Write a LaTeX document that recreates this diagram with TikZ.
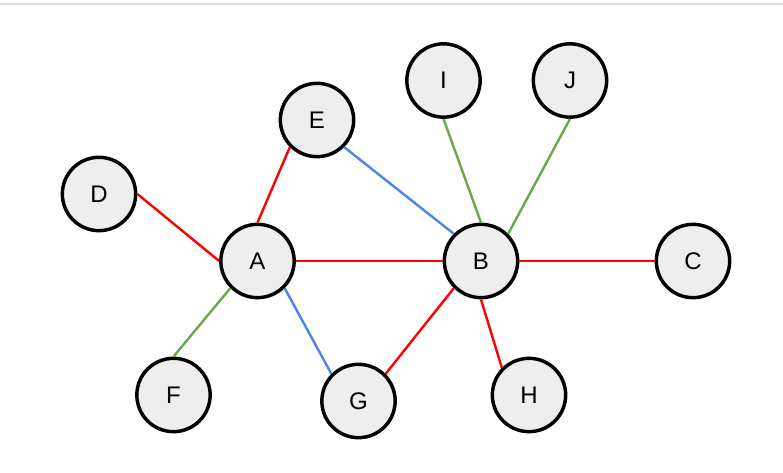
\documentclass[tikz,border=0pt]{standalone}
\usepackage{fontspec}
\setmainfont{Liberation Sans}
\definecolor{nodefill}{HTML}{EEEEEE}
\definecolor{ered}{HTML}{FF0000}
\definecolor{eblue}{HTML}{4A86E8}
\definecolor{egreen}{HTML}{6AA84F}
\definecolor{topline}{HTML}{DADCE0}
\begin{document}
\begin{tikzpicture}[x=0.75pt,y=-0.75pt,
  vtx/.style={circle,draw=black,line width=2.6pt,fill=nodefill,minimum size=55pt,inner sep=0pt,font=\fontsize{18}{20}\selectfont},
  redge/.style={draw=ered,line width=1.8pt},
  bedge/.style={draw=eblue,line width=1.8pt},
  gedge/.style={draw=egreen,line width=1.8pt}]
\useasboundingbox (0,0) rectangle (783,473);
\fill[white] (0,0) rectangle (783,473);
\coordinate (tl) at (0,4);
\coordinate (tr) at (783,4);
\draw[topline,line width=0.9pt] (tl) -- (tr);
\node[vtx] (I) at (443.5,80.5) {I};
\node[vtx] (J) at (570,80.5) {J};
\node[vtx] (E) at (317,120) {E};
\node[vtx] (D) at (99,194) {D};
\node[vtx] (A) at (257.5,261) {A};
\node[vtx] (B) at (481,261) {B};
\node[vtx] (C) at (693,261) {C};
\node[vtx] (F) at (173.5,395) {F};
\node[vtx] (G) at (358.5,401) {G};
\node[vtx] (H) at (529,395) {H};
\path[redge] (D.east) -- (A.west);
\path[redge] (E.south west) -- (A.north);
\path[redge] (A.east) -- (B.west);
\path[redge] (B.east) -- (C.west);
\path[redge] (B.south west) -- (G.north east);
\path[redge] (B.south) -- (H.north west);
\path[bedge] (E.south east) -- (B.north west);
\path[bedge] (A.south east) -- (G.north west);
\path[gedge] (I.south) -- (B.north);
\path[gedge] (J.south) -- (B.north east);
\path[gedge] (A.south west) -- (F.north);
\end{tikzpicture}
\end{document}
